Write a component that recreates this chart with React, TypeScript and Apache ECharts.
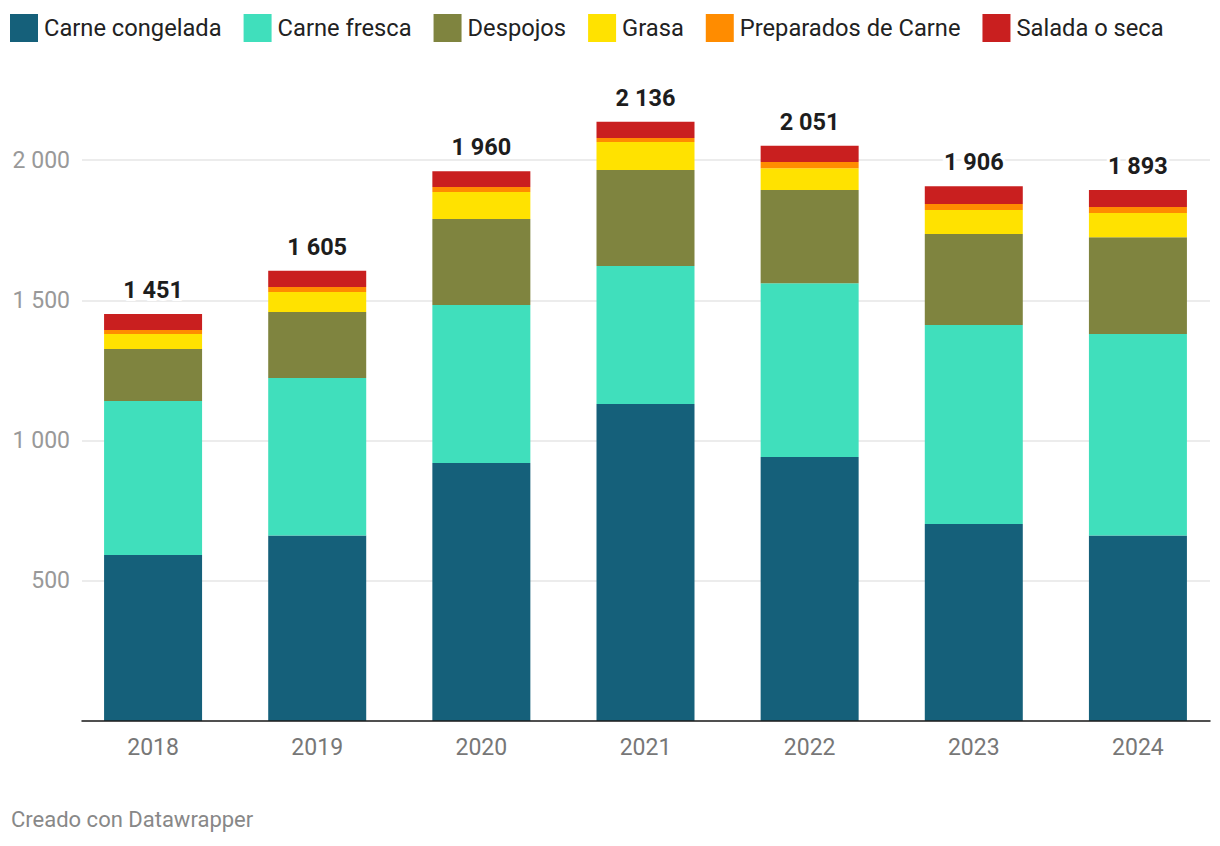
import React, { useEffect, useRef } from "react";
import * as echarts from "echarts";

const years = ["2018", "2019", "2020", "2021", "2022", "2023", "2024"];
const seriesNames = ["Carne congelada", "Carne fresca", "Despojos", "Grasa", "Preparados de Carne", "Salada o seca"];
const congelada = [592, 661, 920, 1130, 941, 702, 661];
const fresca = [549, 562, 563, 492, 620, 710, 719];
const despojos = [185, 235, 307, 342, 332, 324, 345];
const grasa = [54, 71, 96, 100, 78, 86, 86];
const preparados = [14, 18, 18, 14, 22, 21, 21];
const salada = [57, 58, 56, 58, 58, 63, 61];
const yTicks = [0, 500, 1000, 1500, 2000];
const colors = ["#15607a", "#40dfbc", "#7f843f", "#ffe200", "#ff8c00", "#c91f1f"];

const fmt = (v: number) => {
  const n = Math.round(v);
  if (n >= 1000) {
    const th = Math.floor(n / 1000);
    const rest = String(n % 1000).padStart(3, "0");
    return th + " " + rest;
  }
  return String(n);
};

export default function App() {
  const ref = useRef<HTMLDivElement>(null);
  useEffect(() => {
    if (!ref.current) return;
    const chart = echarts.init(ref.current, undefined, { renderer: "svg" });
    const allData = [congelada, fresca, despojos, grasa, preparados, salada];
    const totals = years.map((_, i) => allData.reduce((s, arr) => s + arr[i], 0));
    const font = "Roboto, 'Noto Sans', sans-serif";
    const series: any[] = allData.map((arr, k) => ({
      name: seriesNames[k],
      type: "bar",
      stack: "total",
      xAxisIndex: 1,
      yAxisIndex: 1,
      barWidth: 98,
      clip: false,
      data: arr,
      itemStyle: { color: colors[k] },
      emphasis: { disabled: true },
      label:
        k === allData.length - 1
          ? {
              show: true,
              position: "top",
              distance: 12,
              formatter: (p: any) => fmt(totals[p.dataIndex]),
              fontFamily: font,
              fontSize: 23.5,
              fontWeight: 700,
              color: "#1d1d1d",
              textBorderColor: "#ffffff",
              textBorderWidth: 6,
            }
          : { show: false },
    }));
    chart.setOption({
      animation: false,
      textStyle: { fontFamily: font },
      legend: {
        top: 9,
        left: 5,
        itemWidth: 28,
        itemHeight: 28,
        itemGap: 22,
        icon: "rect",
        selectedMode: false,
        data: seriesNames,
        textStyle: { fontSize: 23.7, color: "#222", fontFamily: font, padding: [0, 0, 4, 1] },
      },
      grid: [
        { left: 82, right: 10, top: 160, bottom: 125 },
        { left: 71, right: 0, top: 160, bottom: 125 },
      ],
      xAxis: [
        {
          type: "category",
          gridIndex: 0,
          data: years,
          z: 10,
          axisLine: { show: true, lineStyle: { color: "#1d1d1d", width: 1.5 } },
          axisTick: { show: false },
          axisLabel: { show: false },
        },
        {
          type: "category",
          gridIndex: 1,
          data: years,
          axisLine: { show: false },
          axisTick: { show: false },
          axisLabel: { fontSize: 23, color: "#777", margin: 15, fontFamily: font },
        },
      ],
      yAxis: [
        {
          type: "value",
          gridIndex: 0,
          min: yTicks[0],
          max: yTicks[yTicks.length - 1],
          interval: 500,
          axisLine: { show: false },
          axisTick: { show: false },
          splitLine: { show: true, lineStyle: { color: "#e6e6e6", width: 1.5 } },
          axisLabel: { fontSize: 23, color: "#999", margin: 12, fontFamily: font, formatter: (v: number) => (v === 0 ? "" : fmt(v)) },
        },
        {
          type: "value",
          gridIndex: 1,
          min: yTicks[0],
          max: yTicks[yTicks.length - 1],
          interval: 500,
          show: false,
          splitLine: { show: false },
        },
      ],
      series,
      graphic: [
        {
          type: "text",
          left: 11,
          top: 808,
          style: { text: "Creado con Datawrapper", fill: "#888", fontSize: 22, fontFamily: font },
        },
      ],
    });
    return () => chart.dispose();
  }, []);
  return <div ref={ref} style={{ position: "fixed", left: 0, top: 0, width: 1220, height: 846, background: "#fff" }} />;
}
